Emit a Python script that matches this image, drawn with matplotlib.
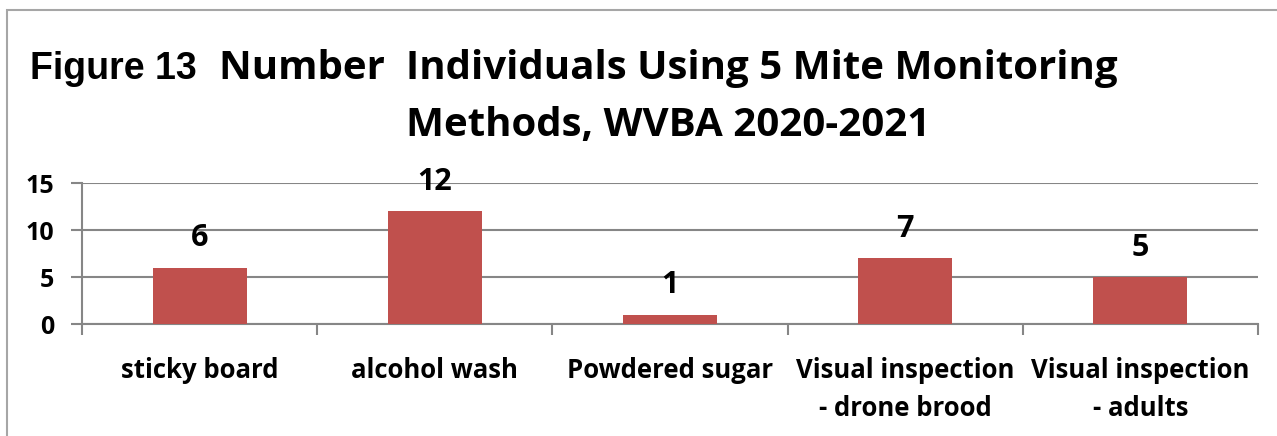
import matplotlib
matplotlib.use("Agg")
import matplotlib.pyplot as plt
from matplotlib.patches import Rectangle
import numpy as np

methods = ["sticky board", "alcohol wash", "Powdered sugar",
           "Visual inspection\n- drone brood", "Visual inspection\n- adults"]
counts = [6, 12, 1, 7, 5]
yticks = [0, 5, 10, 15]

BAR = "#C0504D"
GRID = "#868686"
LABEL_FONT = ["Open Sans", "DejaVu Sans"]

fig = plt.figure(figsize=(12.77, 4.36), dpi=100)
fig.patches.append(Rectangle((7 / 1277, -0.01), 1.0, 1 - 10 / 436 + 0.01, transform=fig.transFigure,
                             fill=False, edgecolor="#A6A6A6", linewidth=1.5))

ax = fig.add_axes([82 / 1277, 1 - 324 / 436, 1176 / 1277, 141 / 436])
x = np.arange(len(methods))
ax.bar(x, counts, width=0.4, color=BAR, zorder=3)
for xi, v in zip(x, counts):
    ax.text(xi, v + 3.1, str(v), ha="center", va="center", fontsize=22, fontweight="bold",
            family=LABEL_FONT)

ax.set_xlim(-0.5, len(methods) - 0.5)
ax.set_ylim(0, 15)
ax.set_yticks(yticks)
ax.set_yticklabels([str(t) for t in yticks], fontsize=18, fontweight="bold", family=LABEL_FONT)
ax.yaxis.grid(True, color=GRID, linewidth=1.5, zorder=0)
ax.tick_params(axis="y", length=8, width=1.5, color=GRID, pad=12)

# category boundary ticks below the axis
ax.set_xticks(np.arange(len(methods) + 1) - 0.5)
ax.set_xticklabels([])
ax.set_xticks(x, minor=True)
ax.set_xticklabels(methods, minor=True, fontsize=18.5, fontweight="bold", family=LABEL_FONT,
                   linespacing=1.5, va="top")
ax.tick_params(axis="x", which="major", length=8, width=1.5, color=GRID)
ax.tick_params(axis="x", which="minor", length=0, pad=24)
for s in ["top", "right"]:
    ax.spines[s].set_visible(False)
ax.spines["left"].set_color(GRID)
ax.spines["bottom"].set_color(GRID)
ax.spines["left"].set_linewidth(1.5)
ax.spines["bottom"].set_linewidth(1.5)

fig.text(30 / 1277, 1 - 69 / 436, "Figure 13", fontsize=27, fontweight="bold",
         family="Liberation Sans", va="center", ha="left")
fig.text(668 / 1277, 1 - 97 / 436, "Number  Individuals Using 5 Mite Monitoring\nMethods, WVBA 2020-2021",
         fontsize=29, fontweight="bold", family=LABEL_FONT, ha="center", va="center",
         linespacing=1.57)

fig.savefig("out.png", dpi=100)
